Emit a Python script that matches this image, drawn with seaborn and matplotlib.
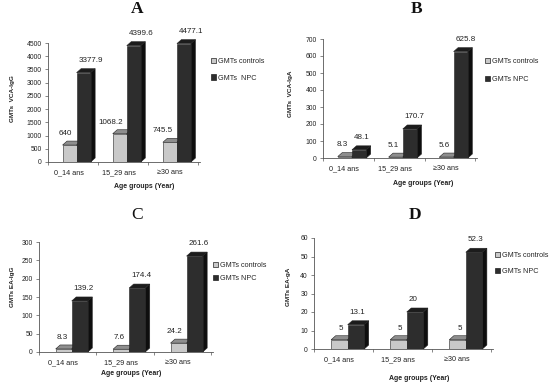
import numpy as np
import pandas as pd
import matplotlib
matplotlib.use("Agg")
import matplotlib.pyplot as plt
from matplotlib.patches import Polygon, Patch
import seaborn as sns

# data
groups = ["0_14 ans", "15_29 ans", "≥30 ans"]
series = ["GMTs controls", "GMTs NPC"]

vca_igg_controls = [640, 1068.2, 745.5]
vca_igg_npc = [3377.9, 4399.6, 4477.1]
vca_iga_controls = [8.3, 5.1, 5.6]
vca_iga_npc = [48.1, 170.7, 625.8]
ea_igg_controls = [8.3, 7.6, 24.2]
ea_igg_npc = [139.2, 174.4, 261.6]
ea_iga_controls = [5, 5, 5]
ea_iga_npc = [13.1, 20, 52.3]

panel_titles = ["A", "B", "C", "D"]
y_labels = ["GMTs  VCA-IgG", "GMTs  VCA-IgA", "GMTs EA-IgG", "GMTs EA-gA"]
y_max = [4500, 700, 300, 60]
y_step = [500, 100, 50, 10]
legend_labels = [["GMTs controls", "GMTs  NPC"], ["GMTs controls", "GMTs NPC"],
                 ["GMTs controls", "GMTs NPC"], ["GMTs controls", "GMTs NPC"]]
controls_data = [vca_igg_controls, vca_iga_controls, ea_igg_controls, ea_iga_controls]
npc_data = [vca_igg_npc, vca_iga_npc, ea_igg_npc, ea_iga_npc]

#%%
sns.set_style("white")
plt.rcParams['font.family'] = ['Liberation Sans', 'DejaVu Sans']

W, H = 550, 383
fig = plt.figure(figsize=(W / 100, H / 100), dpi=100)
fig.patch.set_facecolor("white")

# axes rectangles in pixels: left, top, right, bottom
rects = [(48, 43, 200, 162), (323, 39, 477, 158), (39, 242, 213, 352), (314, 238, 493, 349)]
title_pos = [(137, 9), (417, 9), (137, 215), (415, 215)]
ylabel_xy = [(-0.217, 0.53), (-0.198, 0.54), (-0.14, 0.59), (-0.126, 0.56)]
xlabel_xy = [(0.63, -0.176), (0.65, -0.185), (0.53, -0.164), (0.59, -0.234)]
legend_pos = [(211, 58), (485, 58), (213, 262), (495, 252)]
legend_gap = [1.3, 1.5, 0.8, 1.2]

face = {"GMTs controls": ("#c9c9c9", "#8e8e8e", "#6a6a6a"),
        "GMTs NPC": ("#2d2d2d", "#1c1c1c", "#0e0e0e")}

for k in range(4):
    l, t, r, b = rects[k]
    ax = fig.add_axes([l / W, 1 - b / H, (r - l) / W, (b - t) / H])

    df = pd.DataFrame({
        "group": groups * 2,
        "value": controls_data[k] + npc_data[k],
        "series": [series[0]] * 3 + [series[1]] * 3,
    })
    sns.barplot(data=df, x="group", y="value", hue="series", hue_order=series,
                palette=[face[s][0] for s in series], saturation=1, width=0.56,
                edgecolor="#222222", linewidth=0.4, legend=False, ax=ax)

    ax.set_xlim(-0.57, 2.46)
    ax.set_ylim(0, y_max[k])
    ax.set_yticks(np.arange(0, y_max[k] + 1, y_step[k]))

    # fake 3D depth (a few pixels up and right)
    xr = ax.get_xlim()[1] - ax.get_xlim()[0]
    dx = 4.5 * xr / (r - l)
    dy = 4.0 * y_max[k] / (b - t)

    bars = list(ax.patches)
    for i, p in enumerate(bars):
        s = series[0] if i < 3 else series[1]
        z = 2 if i < 3 else 3
        p.set_zorder(z + 0.1)
        x0, w, h = p.get_x(), p.get_width(), p.get_height()
        top = [(x0, h), (x0 + dx, h + dy), (x0 + w + dx, h + dy), (x0 + w, h)]
        side = [(x0 + w, 0), (x0 + w + dx, dy), (x0 + w + dx, h + dy), (x0 + w, h)]
        ax.add_patch(Polygon(top, closed=True, facecolor=face[s][1], edgecolor="#222222",
                             linewidth=0.4, zorder=z, clip_on=False))
        ax.add_patch(Polygon(side, closed=True, facecolor=face[s][2], edgecolor="#222222",
                             linewidth=0.4, zorder=z, clip_on=False))
        # controls labels end just left of the NPC bar, NPC labels start at its left edge
        if i < 3:
            ax.annotate(f"{h:g}", (x0 + w, h + dy), xytext=(-3.0, 3.0),
                        textcoords="offset points", ha="right", va="bottom",
                        fontsize=5.8, color="#222222", zorder=5, annotation_clip=False)
        else:
            ax.annotate(f"{h:g}", (x0, h + dy), xytext=(1.5, 3.5),
                        textcoords="offset points", ha="left", va="bottom",
                        fontsize=5.8, color="#222222", zorder=5, annotation_clip=False)

    # category labels sit a bit left of the bars, separators as minor ticks
    ax.set_xticks(np.arange(3) - 0.15, groups)
    ax.set_xticks(np.arange(4) - 0.57, minor=True)
    ax.tick_params(axis="x", which="major", length=0, pad=5, labelsize=5.2, colors="#222222")
    ax.tick_params(axis="x", which="minor", length=2.5, width=0.5, direction="out",
                   bottom=True, color="#555555")
    ax.tick_params(axis="y", length=2.5, width=0.5, direction="out", left=True,
                   pad=2, labelsize=4.9, colors="#222222")
    ax.tick_params(axis="y", colors="#555555", labelcolor="#222222")

    sns.despine(ax=ax)
    for sp in ["left", "bottom"]:
        ax.spines[sp].set_linewidth(0.6)
        ax.spines[sp].set_color("#555555")

    ax.set_ylabel(y_labels[k], fontsize=4.6, fontweight="bold", color="#222222")
    ax.yaxis.set_label_coords(*ylabel_xy[k])
    ax.set_xlabel("Age groups (Year)", fontsize=5.0, fontweight="bold", color="#222222")
    ax.xaxis.set_label_coords(*xlabel_xy[k])

    handles = [Patch(facecolor=face[s][0], edgecolor="#222222", linewidth=0.5) for s in series]
    lx, ly = legend_pos[k]
    ax.legend(handles, legend_labels[k], loc="upper left", bbox_to_anchor=(lx / W, 1 - ly / H),
              bbox_transform=fig.transFigure, frameon=False, fontsize=5.2,
              handlelength=0.7, handleheight=0.7, handletextpad=0.3,
              labelspacing=legend_gap[k], borderpad=0, borderaxespad=0)

    tx, ty = title_pos[k]
    fig.text(tx / W, 1 - ty / H, panel_titles[k], ha="center", va="center",
             fontsize=12.5, fontweight="normal" if k == 2 else "bold",
             family=["Liberation Serif", "DejaVu Serif"], color="#111111")

fig.savefig("out.png", dpi=100, facecolor="white")
